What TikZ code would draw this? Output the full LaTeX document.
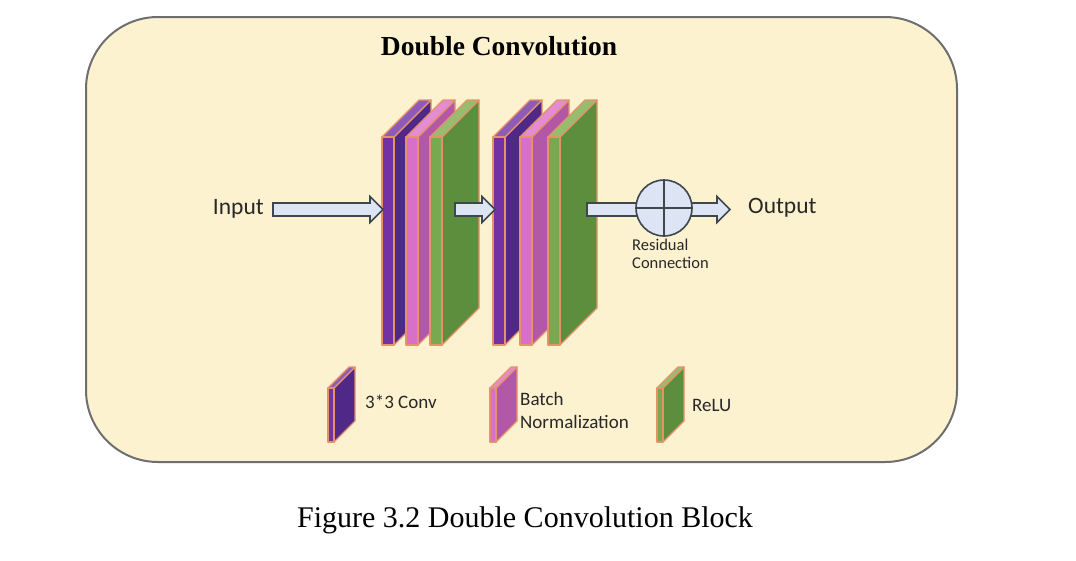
\documentclass[tikz,border=0pt]{standalone}
\usepackage{fontspec}
\setmainfont{Liberation Serif}
\newfontfamily\carlito{Carlito}
\usetikzlibrary{calc}
\definecolor{cream}{RGB}{253,242,208}
\definecolor{boxgray}{RGB}{110,110,112}
\definecolor{pufront}{RGB}{114,50,164}
\definecolor{puside}{RGB}{80,40,136}
\definecolor{putop}{RGB}{142,92,184}
\definecolor{pkfront}{RGB}{216,112,200}
\definecolor{pkside}{RGB}{178,88,166}
\definecolor{pktop}{RGB}{228,140,208}
\definecolor{grfront}{RGB}{120,168,80}
\definecolor{grside}{RGB}{92,142,62}
\definecolor{grtop}{RGB}{148,190,110}
\definecolor{slabedge}{RGB}{230,146,104}
\definecolor{arrowfill}{RGB}{221,229,245}
\definecolor{arrowline}{RGB}{62,70,78}
\definecolor{txtgray}{RGB}{40,40,40}
\newcommand\myslab[7]{%
  \filldraw[slabline, fill=#7side] (#1+#4,#2) -- (#1+#4+#5,#2-#6) -- (#1+#4+#5,#3-#6) -- (#1+#4,#3) -- cycle;
  \filldraw[slabline, fill=#7top] (#1,#2) -- (#1+#5,#2-#6) -- (#1+#4+#5,#2-#6) -- (#1+#4,#2) -- cycle;
  \filldraw[slabline, fill=#7front] (#1,#2) rectangle (#1+#4,#3);
}
\newcommand\blockarr[2]{%
  \draw[barrow] let \p1=(#1), \p2=(#2) in
    (\x1,\y1+6.5pt) -- (\x2-13pt,\y1+6.5pt) -- (\x2-13pt,\y1+13pt) -- (\x2,\y1)
    -- (\x2-13pt,\y1-13pt) -- (\x2-13pt,\y1-6.5pt) -- (\x1,\y1-6.5pt) -- cycle;
}
\begin{document}
\begin{tikzpicture}[x=1pt,y=-1pt,
  slabline/.style={draw=slabedge, line width=1.2pt, line join=round},
  barrow/.style={draw=arrowline, fill=arrowfill, line width=1.6pt, line join=miter},
  sanslbl/.style={font=\carlito\fontsize{23.5}{28}\selectfont, text=txtgray, inner sep=0pt},
  leglbl/.style={font=\carlito\fontsize{19}{23}\selectfont, text=txtgray, inner sep=0pt, align=left},
]
\useasboundingbox (0,0) rectangle (1076,560);
\fill[white] (0,0) rectangle (1076,560);
\draw[line width=2pt, draw=boxgray, fill=cream, rounded corners=72pt] (86,17) rectangle (957,462);

\node[font=\bfseries\fontsize{27.5}{33}\selectfont, text=black] (title) at (499,46) {Double Convolution};

% first double-conv group
\myslab{382}{137}{345}{12}{37}{37}{pu}
\myslab{406}{137}{345}{12}{37}{37}{pk}
\myslab{430}{137}{345}{12}{37}{37}{gr}
% second group
\myslab{493}{137}{345}{12}{37}{37}{pu}
\myslab{520}{137}{345}{12}{37}{37}{pk}
\myslab{548}{137}{345}{12}{37}{37}{gr}

% labels
\node[sanslbl, anchor=east] (in) at (264,209) {Input};
\node[sanslbl, anchor=west] (out) at (748,208) {Output};

% arrows
\coordinate (a1s) at (273,209.5);
\coordinate (a1e) at (383,209.5);
\coordinate (a2s) at (455,209.5);
\coordinate (a2e) at (495,209.5);
\coordinate (a3s) at (587,209.5);
\coordinate (a3e) at (730,209.5);
\blockarr{a1s}{a1e}
\blockarr{a2s}{a2e}
\blockarr{a3s}{a3e}

% residual connection
\node[circle, draw=arrowline, fill=arrowfill, line width=1.6pt, minimum size=56pt, inner sep=0pt] (res) at (664,208) {};
\draw[arrowline, line width=1.4pt] (res.north) -- (res.south);
\draw[arrowline, line width=1.4pt] (res.west) -- (res.east);
\node[font=\carlito\fontsize{16.5}{18}\selectfont, text=txtgray, inner sep=0pt, align=left, anchor=west] (reslbl) at (632,254) {Residual\\Connection};

% legend
\myslab{328}{388}{442}{6}{21}{21}{pu}
\myslab{490}{388}{442}{6}{21}{21}{pk}
\myslab{657}{388}{442}{6}{21}{21}{gr}
\node[leglbl, anchor=west] (lconv) at (365,402) {3*3 Conv};
\node[leglbl, anchor=west] (lbn) at (520,410) {Batch\\Normalization};
\node[leglbl, anchor=west] (lrelu) at (692,405) {ReLU};

\node[font=\fontsize{30}{36}\selectfont, text=black] (cap) at (525,520) {Figure 3.2 Double Convolution Block};
\end{tikzpicture}
\end{document}
